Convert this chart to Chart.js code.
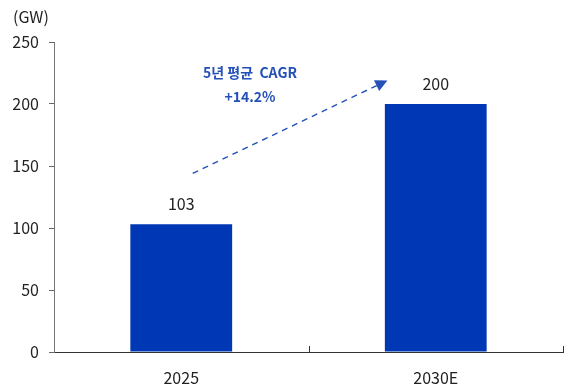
<!DOCTYPE html>
<html>
<head>
<meta charset="utf-8">
<script src="https://cdn.jsdelivr.net/npm/chart.js@4"></script>
<style>
  html, body { margin: 0; padding: 0; background: #fff; }
  #wrap { width: 565px; height: 388px; position: relative; }
</style>
</head>
<body>
<div id="wrap"><canvas id="c"></canvas></div>
<script>
var categories = ['2025', '2030E'];
var capacity = [103, 200];
var yTicks = [0, 50, 100, 150, 200, 250];
var unitLabel = '(GW)';
var cagrLines = ['5년 평균  CAGR', '+14.2%'];

var barColor = '#0037b4';
var noteColor = '#2450b8';
var fontFamily = "'Noto Sans CJK KR', 'Noto Sans', sans-serif";

// labels above bars, unit text, x ticks pointing up, CAGR arrow
var extras = {
  id: 'extras',
  afterDatasetsDraw: function(chart) {
    var ctx = chart.ctx;
    var x = chart.scales.x, y = chart.scales.y;
    ctx.save();

    // value labels
    ctx.font = '16px ' + fontFamily;
    ctx.fillStyle = '#222';
    ctx.textAlign = 'center';
    ctx.textBaseline = 'bottom';
    chart.getDatasetMeta(0).data.forEach(function(bar, i) {
      ctx.fillText(String(capacity[i]), bar.x, bar.y - 12);
    });

    // unit
    ctx.textAlign = 'left';
    ctx.textBaseline = 'middle';
    ctx.fillText(unitLabel, 13, 17);

    // x tick marks at category boundaries (pointing up)
    ctx.strokeStyle = '#333';
    ctx.lineWidth = 1;
    for (var i = 0; i < categories.length; i++) {
      var px = Math.round(x.getPixelForValue(i + 0.5)) + 0.5;
      ctx.beginPath();
      ctx.moveTo(px, y.bottom);
      ctx.lineTo(px, y.bottom - 6);
      ctx.stroke();
    }

    // CAGR arrow (data space)
    var x0 = x.getPixelForValue(0.045), y0 = y.getPixelForValue(144);
    var x1 = x.getPixelForValue(0.81), y1 = y.getPixelForValue(219);
    var ang = Math.atan2(y1 - y0, x1 - x0);
    ctx.strokeStyle = noteColor;
    ctx.lineWidth = 1.4;
    ctx.setLineDash([6, 5]);
    ctx.beginPath();
    ctx.moveTo(x0, y0);
    ctx.lineTo(x1 - 9 * Math.cos(ang), y1 - 9 * Math.sin(ang));
    ctx.stroke();
    ctx.setLineDash([]);
    ctx.fillStyle = noteColor;
    ctx.beginPath();
    ctx.moveTo(x1, y1);
    ctx.lineTo(x1 - 12 * Math.cos(ang) + 6 * Math.sin(ang), y1 - 12 * Math.sin(ang) - 6 * Math.cos(ang));
    ctx.lineTo(x1 - 12 * Math.cos(ang) - 6 * Math.sin(ang), y1 - 12 * Math.sin(ang) + 6 * Math.cos(ang));
    ctx.closePath();
    ctx.fill();

    // CAGR text
    ctx.font = 'bold 14px ' + fontFamily;
    ctx.textAlign = 'center';
    ctx.textBaseline = 'middle';
    var tx = x.getPixelForValue(0.27);
    ctx.fillText(cagrLines[0], tx, y.getPixelForValue(225));
    ctx.fillText(cagrLines[1], tx, y.getPixelForValue(206));

    ctx.restore();
  }
};

new Chart(document.getElementById('c'), {
  type: 'bar',
  data: {
    labels: categories,
    datasets: [{
      data: capacity,
      backgroundColor: barColor,
      categoryPercentage: 1,
      barPercentage: 0.4
    }]
  },
  options: {
    responsive: true,
    maintainAspectRatio: false,
    animation: false,
    layout: { padding: { top: 42, right: 2, left: 0, bottom: 0 } },
    plugins: { legend: { display: false }, tooltip: { enabled: false } },
    scales: {
      x: {
        grid: { display: false, offset: true },
        border: { color: '#333', width: 1 },
        ticks: { color: '#222', font: { family: fontFamily, size: 16 }, padding: 8 },
        afterFit: function(s) { s.height = 36; }
      },
      y: {
        min: 0, max: 250,
        afterBuildTicks: function(s) { s.ticks = yTicks.map(function(v) { return { value: v }; }); },
        grid: { drawOnChartArea: false, tickLength: 5, color: '#666' },
        border: { color: '#777', width: 1 },
        ticks: { color: '#222', font: { family: fontFamily, size: 16 }, padding: 10 },
        afterFit: function(s) { s.width = 54; }
      }
    }
  },
  plugins: [extras]
});
</script>
</body>
</html>
